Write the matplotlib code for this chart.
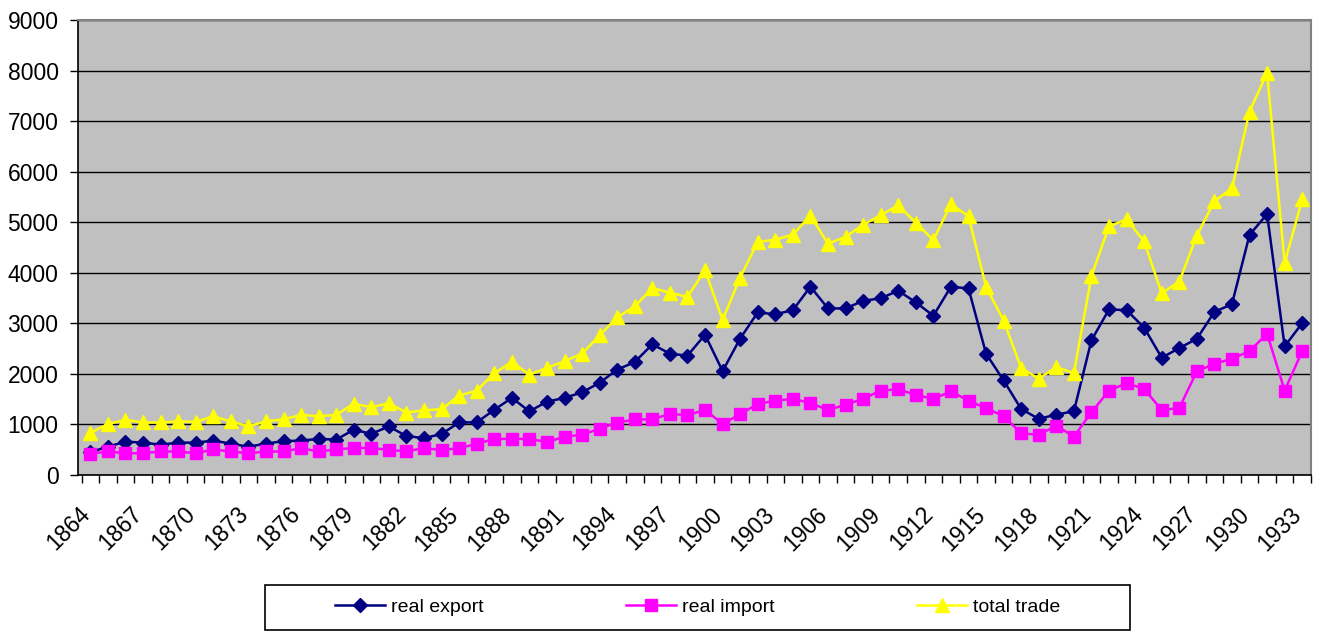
import numpy as np
import matplotlib.pyplot as plt
from matplotlib.patches import Rectangle

plt.rcParams['font.family'] = ['Liberation Sans', 'DejaVu Sans']

years = list(range(1864, 1934))

real_export = [
    450, 560, 660, 640, 600, 640, 640, 680, 620, 560,
    620, 670, 680, 715, 700, 895, 815, 960, 770, 730,
    810, 1040, 1040, 1290, 1525, 1260, 1450, 1525, 1635, 1825,
    2085, 2235, 2585, 2400, 2360, 2775, 2055, 2700, 3215, 3180,
    3260, 3725, 3295, 3295, 3445, 3495, 3645, 3415, 3150, 3725,
    3690, 2400, 1870, 1305, 1110, 1195, 1260, 2665, 3275, 3260,
    2915, 2320, 2510, 2695, 3225, 3380, 4750, 5160, 2545, 3005,
]
real_import = [
    420, 465, 430, 430, 465, 465, 430, 505, 465, 430,
    465, 465, 530, 465, 505, 535, 535, 495, 470, 530,
    495, 530, 615, 715, 715, 715, 650, 760, 795, 915,
    1035, 1100, 1100, 1210, 1180, 1290, 1010, 1205, 1405, 1470,
    1505, 1425, 1285, 1390, 1505, 1670, 1695, 1585, 1505, 1655,
    1470, 1320, 1165, 825, 795, 975, 760, 1240, 1670, 1815,
    1705, 1285, 1325, 2050, 2200, 2300, 2450, 2795, 1670, 2450,
]
total_trade = [
    830, 1010, 1090, 1040, 1040, 1060, 1050, 1160, 1060, 960,
    1060, 1100, 1190, 1160, 1190, 1410, 1340, 1420, 1235, 1280,
    1300, 1570, 1670, 2010, 2240, 1985, 2120, 2250, 2400, 2760,
    3120, 3335, 3700, 3605, 3525, 4055, 3065, 3905, 4610, 4655,
    4755, 5130, 4575, 4710, 4950, 5140, 5335, 4990, 4645, 5360,
    5120, 3720, 3055, 2115, 1905, 2135, 2015, 3935, 4920, 5055,
    4620, 3595, 3825, 4735, 5415, 5670, 7190, 7955, 4195, 5450,
]

fig = plt.figure(figsize=(13.24, 6.31), dpi=100)
ax = fig.add_axes([78 / 1324, 1 - 475 / 631, 1233 / 1324, 455 / 631])
ax.set_facecolor('#C0C0C0')

x = np.arange(len(years))
ax.plot(x, real_export, color='#000080', lw=1.8, marker='D', ms=7.5, label='real export')
ax.plot(x, real_import, color='#FF00FF', lw=1.8, marker='s', ms=8, label='real import')
ax.plot(x, total_trade, color='#FFFF00', lw=1.8, marker='^', ms=10.5, label='total trade')

ax.set_xlim(-0.5, len(years) - 0.5)
ax.set_ylim(0, 9000)
ax.set_yticks(range(0, 9001, 1000))
ax.yaxis.grid(True, color='black', lw=1)
ax.set_axisbelow(True)

# labels every third year; invisible major ticks nudged left so the
# rotated text ends just left of the point, as in Excel
ax.set_xticks(x[::3] - 0.7)
ax.set_xticklabels([str(y) for y in years[::3]], rotation=45, ha='right',
                   va='top', rotation_mode='anchor')
ax.set_xticks(np.arange(-0.5, len(years), 1), minor=True)
ax.tick_params(axis='x', which='major', length=0, pad=20)
ax.tick_params(axis='x', which='minor', length=6, direction='out', width=1)
ax.tick_params(axis='y', length=6, direction='out', width=1, pad=8)
ax.tick_params(labelsize=16.5)

for s in ['left', 'bottom']:
    ax.spines[s].set_color('black')
    ax.spines[s].set_linewidth(1.2)
for s in ['top', 'right']:
    ax.spines[s].set_color('#808080')
    ax.spines[s].set_linewidth(1.5)

# legend box below the plot
fig.patches.append(Rectangle((265 / 1324, 1 / 631), 865 / 1324, 45 / 631,
                             transform=fig.transFigure, fill=False,
                             edgecolor='black', lw=1.2))
fig.legend(loc='center', bbox_to_anchor=(697.5 / 1324, 1 - 607 / 631), ncol=3,
           frameon=False, fontsize=14, handlelength=2.6, handletextpad=0.3,
           columnspacing=7.3)

fig.savefig('out.png', dpi=100)
